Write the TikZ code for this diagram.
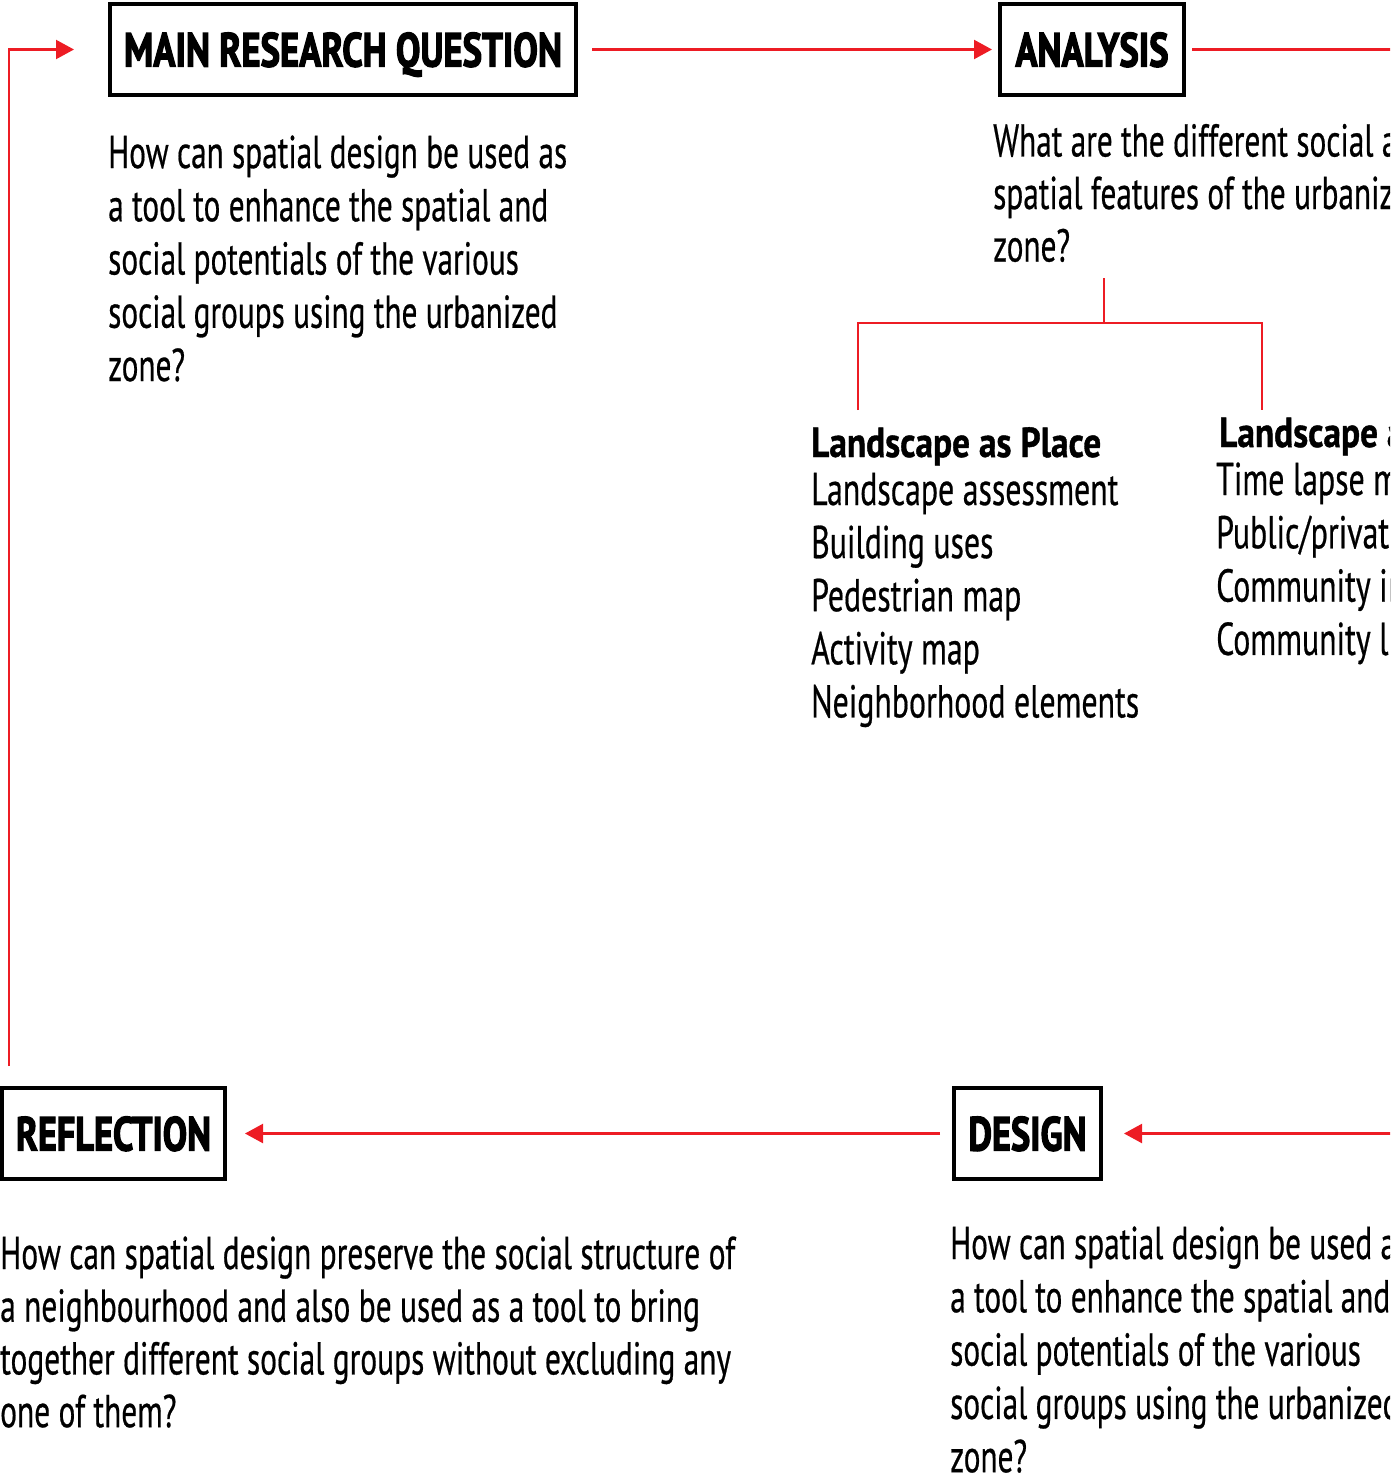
\documentclass[tikz,border=0pt]{standalone}
\usepackage{fontspec}
\usepackage{graphicx}
\setmainfont{PT Sans}
\newfontfamily\bodyf{PT Sans}[FakeBold=0.6]
\newfontfamily\titlef{PT Sans}[BoldFeatures={FakeBold=3}]
\newfontfamily\headf{PT Sans}[BoldFeatures={FakeBold=1}]
\usetikzlibrary{arrows.meta}
\definecolor{arrred}{HTML}{ED1C24}
\tikzset{
  redline/.style={draw=arrred, line width=2.2pt},
  arr/.style={redline, -{Triangle[length=18pt,width=19pt]}},
  titlebox/.style={draw=black, line width=4pt, inner sep=0pt, minimum height=91pt, text height=34pt, text depth=0pt},
  txt/.style={anchor=base west, inner sep=0pt, font=\bodyf\fontsize{46}{53}\selectfont},
  headtxt/.style={anchor=base west, inner sep=0pt, font=\headf\bfseries\fontsize{42}{50}\selectfont},
}
\newlength\natw
\newcommand\boxtitle[2]{\resizebox{#1}{34pt}{\titlef\bfseries #2}}
\begin{document}
\settowidth\natw{\bodyf\fontsize{46}{53}\selectfont How can spatial design be used as}%
\pgfmathsetmacro\sxA{459/\natw}%
\settowidth\natw{\bodyf\fontsize{46}{53}\selectfont Neighborhood elements}%
\pgfmathsetmacro\sxB{328/\natw}%
\settowidth\natw{\bodyf\fontsize{46}{53}\selectfont How can spatial design preserve the social structure of}%
\pgfmathsetmacro\sxC{735/\natw}%
\settowidth\natw{\headf\bfseries\fontsize{42}{50}\selectfont Landscape as Place}%
\pgfmathsetmacro\sxH{290/\natw}%
\begin{tikzpicture}[x=1pt,y=-1pt]
  \useasboundingbox (0,0) rectangle (1390,1477);
  \clip (0,0) rectangle (1390,1477);

  % title boxes
  \node[titlebox, minimum width=466pt] (mainq) at (343,49.5) {\boxtitle{438pt}{MAIN RESEARCH QUESTION}};
  \node[titlebox, minimum width=184pt] (analysis) at (1092,49.5) {\boxtitle{153pt}{ANALYSIS}};
  \node[titlebox, minimum width=223pt] (reflection) at (113.5,1133.5) {\boxtitle{195pt}{REFLECTION}};
  \node[titlebox, minimum width=147pt] (design) at (1027.5,1133.5) {\boxtitle{118pt}{DESIGN}};

  % connectors
  \coordinate (loopS) at (9,1066);
  \coordinate (edgeA) at (1400,49.5);
  \coordinate (edgeD) at (1400,1133.5);
  \draw[arr, shorten >=34pt] (loopS) |- (mainq.west);
  \draw[arr, shorten <=14pt, shorten >=6pt] (mainq) -- (analysis);
  \draw[redline, shorten <=6pt] (analysis) -- (edgeA);
  \draw[arr, shorten >=21pt] (edgeD) -- (design);
  \draw[arr, shorten <=12pt, shorten >=18pt] (design) -- (reflection);

  % tree
  \coordinate (treeTop) at (1104,278);
  \coordinate (treeJ) at (1104,323);
  \coordinate (treeL) at (858,410);
  \coordinate (treeR) at (1262,410);
  \draw[redline] (treeTop) -- (treeJ);
  \draw[redline] (treeL) |- (treeJ) -| (treeR);

  % main question text
  \foreach \t [count=\i from 0] in {How can spatial design be used as, a tool to enhance the spatial and, social potentials of the various, social groups using the urbanized, zone?}
    \node[txt] (mq\i) at (108,{168+53.25*\i}) {\scalebox{\sxA}[1]{\t}};
  % analysis text
  \foreach \t [count=\i from 0] in {What are the different social and, spatial features of the urbanized, zone?}
    \node[txt] (an\i) at (993,{156.5+52.5*\i}) {\scalebox{\sxA}[1]{\t}};
  % landscape as place
  \node[headtxt] (lpHead) at (811,457) {\scalebox{\sxH}[1]{Landscape as Place}};
  \foreach \t [count=\i from 0] in {Landscape assessment, Building uses, Pedestrian map, Activity map, Neighborhood elements}
    \node[txt] (lp\i) at (811,{505+53.1*\i}) {\scalebox{\sxB}[1]{\t}};
  % right column
  \node[headtxt] (ltHead) at (1219,447) {\scalebox{\sxH}[1]{Landscape as Process}};
  \foreach \t [count=\i from 0] in {Time lapse map, Public/private spaces, Community interviews, Community life}
    \node[txt] (lt\i) at (1216,{495+53.3*\i}) {\scalebox{\sxB}[1]{\t}};
  % reflection text
  \foreach \t [count=\i from 0] in {How can spatial design preserve the social structure of, a neighbourhood and also be used as a tool to bring, together different social groups without excluding any, one of them?}
    \node[txt] (rf\i) at (0,{1269+52.7*\i}) {\scalebox{\sxC}[1]{\t}};
  % design text
  \foreach \t [count=\i from 0] in {How can spatial design be used as, a tool to enhance the spatial and, social potentials of the various, social groups using the urbanized, zone?}
    \node[txt] (ds\i) at (950,{1259+53.3*\i}) {\scalebox{\sxA}[1]{\t}};
\end{tikzpicture}
\end{document}
